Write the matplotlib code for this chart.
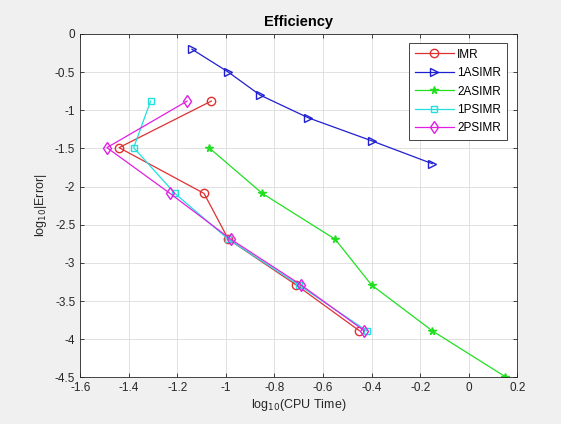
import matplotlib.pyplot as plt

plt.rcParams['font.family'] = ['Liberation Sans', 'DejaVu Sans']

err = [-0.88, -1.49, -2.09, -2.69, -3.29, -3.89]
imr_t = [-1.06, -1.44, -1.09, -0.99, -0.71, -0.45]
ps1_t = [-1.31, -1.38, -1.21, -0.99, -0.70, -0.42]
ps2_t = [-1.16, -1.49, -1.23, -0.98, -0.69, -0.43]

as1_t = [-1.14, -0.99, -0.86, -0.66, -0.40, -0.15]
as1_e = [-0.20, -0.50, -0.80, -1.10, -1.40, -1.70]

as2_t = [-1.07, -0.85, -0.55, -0.40, -0.15, 0.15]
as2_e = [-1.49, -2.09, -2.69, -3.29, -3.89, -4.49]

fig = plt.figure(figsize=(5.61, 4.24), dpi=100, facecolor='#f0f0f0')
ax = fig.add_axes([0.143, 0.11, 0.779, 0.81])

ax.plot(imr_t, err, '-o', color='#e03030', mfc='none', ms=6, lw=0.9, label='IMR')
ax.plot(as1_t, as1_e, '->', color='#1f1fd0', mfc='none', ms=6, lw=0.9, label='1ASIMR')
ax.plot(as2_t, as2_e, '-*', color='#20e020', ms=5.5, lw=0.9, label='2ASIMR')
ax.plot(ps1_t, err, '-s', color='#20e0e0', mfc='none', ms=5, lw=0.9, label='1PSIMR')
ax.plot(ps2_t, err, '-d', color='#e020e0', mfc='none', ms=6, lw=0.9, label='2PSIMR')

ax.set_xlim(-1.6, 0.2)
ax.set_ylim(-4.5, 0)
ax.set_xticks([-1.6, -1.4, -1.2, -1, -0.8, -0.6, -0.4, -0.2, 0, 0.2])
ax.set_xticklabels(['-1.6', '-1.4', '-1.2', '-1', '-0.8', '-0.6', '-0.4', '-0.2', '0', '0.2'])
ax.set_yticks([-4.5, -4, -3.5, -3, -2.5, -2, -1.5, -1, -0.5, 0])
ax.set_yticklabels(['-4.5', '-4', '-3.5', '-3', '-2.5', '-2', '-1.5', '-1', '-0.5', '0'])
ax.tick_params(labelsize=8.5, colors='#262626', direction='in', length=3, width=0.6,
               top=True, right=True)
ax.grid(True, color='#dcdcdc', lw=0.6)
ax.set_axisbelow(True)
for s in ax.spines.values():
    s.set_color('#262626')
    s.set_linewidth(0.6)

ax.set_title('Efficiency', fontsize=10.5, fontweight='bold', pad=6)
ax.set_xlabel('log$_{10}$(CPU Time)', fontsize=9, color='#262626', labelpad=2)
ax.set_ylabel('log$_{10}$|Error|', fontsize=9, color='#262626', labelpad=4)

leg = ax.legend(loc='upper right', fontsize=8.5, fancybox=False, framealpha=1,
                edgecolor='#262626', handlelength=3.3, handletextpad=0.3,
                labelspacing=0.55, borderpad=0.5, borderaxespad=0.3,
                bbox_to_anchor=(0.985, 0.985))
leg.get_frame().set_linewidth(0.6)

plt.savefig('out.png', dpi=100, facecolor=fig.get_facecolor())
